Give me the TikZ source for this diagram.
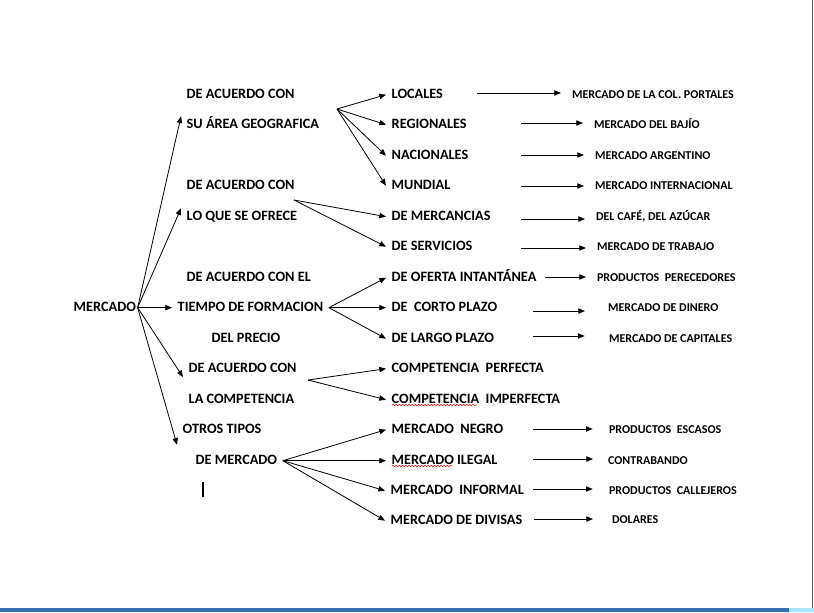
\documentclass[tikz,border=0pt]{standalone}
\usepackage{fontspec}
\setmainfont{Carlito}
\usetikzlibrary{arrows.meta, decorations.pathmorphing}

\tikzset{
  lab/.style={font=\bfseries\fontsize{10.7}{12}\selectfont, anchor=base west,
    inner xsep=4pt, inner ysep=1.5pt, text height=7pt, text depth=2pt},
  res/.style={lab, font=\bfseries\fontsize{9}{11}\selectfont, inner xsep=8pt},
  wavy/.style={red, line width=0.4pt, decorate,
    decoration={snake, amplitude=0.5pt, segment length=2.4pt}}
}

\begin{document}
\begin{tikzpicture}[x=0.75pt, y=-0.75pt, line width=0.6pt,
    >={Triangle[length=5pt,width=4pt]}]
    \useasboundingbox (0,0) rectangle (814,612);

    % page edge
    \draw [black!60, line width=1.3pt] (812.5,0) -- (812.5,608);
    \fill [blue!45!black!70!cyan!80] (0,608) rectangle (789,612);
    \fill [blue!30!cyan!35] (789,608) rectangle (814,612);

    % root
    \node [lab, inner xsep=1pt] (mer) at (72,311) {MERCADO};

    % criterios
    \node [lab] (ac1) at (181,98) {DE ACUERDO CON};
    \node [lab] (ac2) at (181,128) {SU ÁREA GEOGRAFICA};
    \node [lab] (of1) at (181,189) {DE ACUERDO CON};
    \node [lab] (of2) at (181,220) {LO QUE SE OFRECE};
    \node [lab] (ti1) at (181,281) {DE ACUERDO CON EL};
    \node [lab] (ti2) at (172,311) {TIEMPO DE FORMACION};
    \node [lab] (ti3) at (206,342) {DEL PRECIO};
    \node [lab] (co1) at (183,372) {DE ACUERDO CON};
    \node [lab] (co2) at (183,403) {LA COMPETENCIA};
    \node [lab] (ot1) at (177,433) {OTROS TIPOS};
    \node [lab] (ot2) at (190,464) {DE MERCADO};

    % tipos
    \node [lab] (loc) at (386,98) {LOCALES};
    \node [lab] (reg) at (386,128) {REGIONALES};
    \node [lab] (nac) at (386,159) {NACIONALES};
    \node [lab] (mun) at (386,189) {MUNDIAL};
    \node [lab] (mca) at (386,220) {DE MERCANCIAS};
    \node [lab] (ser) at (386,250) {DE SERVICIOS};
    \node [lab] (ofe) at (386,281) {DE OFERTA INTANTÁNEA};
    \node [lab] (cor) at (386,311) {DE\ \ CORTO PLAZO};
    \node [lab] (lar) at (386,342) {DE LARGO PLAZO};
    \node [lab] (per) at (386,372) {COMPETENCIA\ \ PERFECTA};
    \node [lab] (imp) at (386,403) {COMPETENCIA\ \ IMPERFECTA};
    \node [lab] (neg) at (386,433) {MERCADO\ \ NEGRO};
    \node [lab] (ile) at (386,464) {MERCADO ILEGAL};
    \node [lab] (inf) at (385,494) {MERCADO\ \ INFORMAL};
    \node [lab] (div) at (385,524) {MERCADO DE DIVISAS};

    % ejemplos
    \node [res] (r1) at (561,98) {MERCADO DE LA COL. PORTALES};
    \node [res] (r2) at (583,128) {MERCADO DEL BAJÍO};
    \node [res] (r3) at (584,159) {MERCADO ARGENTINO};
    \node [res] (r4) at (584,189) {MERCADO INTERNACIONAL};
    \node [res] (r5) at (585,220) {DEL CAFÉ, DEL AZÚCAR};
    \node [res] (r6) at (586,250) {MERCADO DE TRABAJO};
    \node [res] (r7) at (586,281) {PRODUCTOS\ \ PERECEDORES};
    \node [res] (r8) at (597,311) {MERCADO DE DINERO};
    \node [res] (r9) at (598,342) {MERCADO DE CAPITALES};
    \node [res] (r10) at (598,433) {PRODUCTOS\ \ ESCASOS};
    \node [res] (r11) at (597,464) {CONTRABANDO};
    \node [res] (r12) at (598,494) {PRODUCTOS\ \ CALLEJEROS};
    \node [res] (r13) at (601,523) {DOLARES};

    % fan points
    \coordinate (gf) at (337,109);
    \coordinate (of) at (294,200);
    \coordinate (cf) at (308,380);

    % from the root
    \draw [->] (mer.east) -- (ac2.north west);
    \draw [->] (mer.east) -- (of2.north west);
    \draw [->] (mer.east) -- (ti2.west);
    \draw [->] (mer.east) -- (co1.south west);
    \draw [->] (mer.east) -- ([yshift=-5pt]ot1.south west);

    % second level
    \draw [->] (gf) -- (loc.west);
    \draw [->] (gf) -- (reg.west);
    \draw [->] (gf) -- (nac.west);
    \draw [->] (gf) -- (mun.west);
    \draw [->] (of) -- (mca.west);
    \draw [->] (of) -- (ser.west);
    \draw [->] (ti2.east) -- (ofe.west);
    \draw [->] (ti2.east) -- (cor.west);
    \draw [->] (ti2.east) -- (lar.west);
    \draw [->] (cf) -- (per.west);
    \draw [->] (cf) -- (imp.west);
    \draw [->] (ot2.east) -- (neg.west);
    \draw [->] (ot2.east) -- (ile.west);
    \draw [->] (ot2.east) -- (inf.west);
    \draw [->] (ot2.east) -- (div.west);

    % to the examples
    \coordinate (h1) at (477,93);
    \coordinate (h2) at (521,123);
    \coordinate (h3) at (521,155);
    \coordinate (h4) at (521,186);
    \coordinate (h5) at (521,219);
    \coordinate (h6) at (521,248);
    \coordinate (h7) at (545,277);
    \coordinate (h8) at (533,311);
    \coordinate (h9) at (533,336);
    \coordinate (h10) at (533,429);
    \coordinate (h11) at (533,459);
    \coordinate (h12) at (533,489);
    \coordinate (h13) at (534,519);
    \draw [->] (h1) -- (h1 -| r1.west);
    \draw [->] (h2) -- (h2 -| r2.west);
    \draw [->] (h3) -- (h3 -| r3.west);
    \draw [->] (h4) -- (h4 -| r4.west);
    \draw [->] (h5) -- (h5 -| r5.west);
    \draw [->] (h6) -- (h6 -| r6.west);
    \draw [->] (h7) -- (h7 -| r7.west);
    \draw [->, shorten >=9pt] (h8) -- (h8 -| r8.west);
    \draw [->, shorten >=10pt] (h9) -- (h9 -| r9.west);
    \draw [->, shorten >=4pt] (h10) -- (h10 -| r10.west);
    \draw [->, shorten >=3pt] (h11) -- (h11 -| r11.west);
    \draw [->, shorten >=4pt] (h12) -- (h12 -| r12.west);
    \draw [->, shorten >=6pt] (h13) -- (h13 -| r13.west);

    % spelling marks and cursor
    \draw [wavy] (392,405) -- (477,405);
    \draw [wavy] (392,466) -- (452,466);
    \draw [line width=1.5pt] (203,482) -- (203,497);
\end{tikzpicture}
\end{document}
